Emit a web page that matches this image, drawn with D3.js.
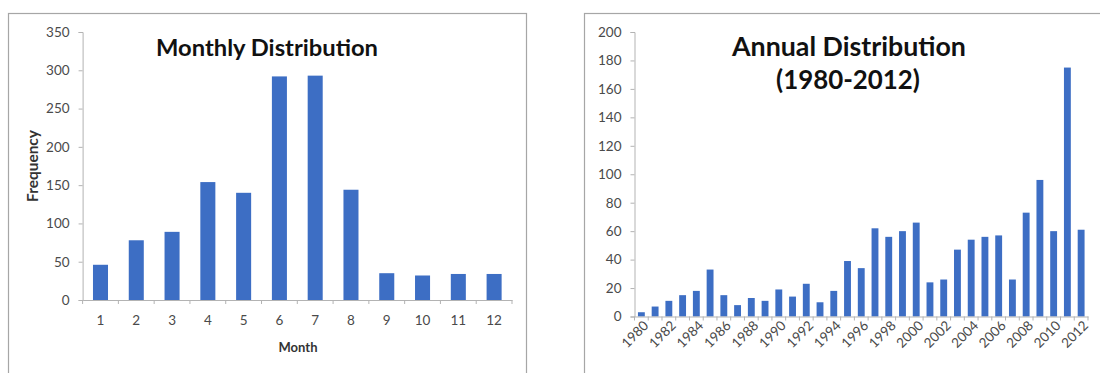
<!DOCTYPE html>
<html>
<head>
<meta charset="utf-8">
<script src="https://cdn.jsdelivr.net/npm/d3@7"></script>
<style>
  html, body { margin: 0; padding: 0; background: #fff; }
  svg { display: block; }
  text { font-family: Lato, "Open Sans", sans-serif; }
</style>
</head>
<body>
<svg id="chart" width="1100" height="373"></svg>
<script>
// Monthly counts
const months = ["1","2","3","4","5","6","7","8","9","10","11","12"];
const monthlyCounts = [46, 78, 89, 154, 140, 292, 293, 144, 35, 32, 34, 34];
const monthlyTicks = [0, 50, 100, 150, 200, 250, 300, 350];

// Annual counts, 1980-2012
const years = ["1980","1981","1982","1983","1984","1985","1986","1987","1988","1989",
  "1990","1991","1992","1993","1994","1995","1996","1997","1998","1999",
  "2000","2001","2002","2003","2004","2005","2006","2007","2008","2009",
  "2010","2011","2012"];
const annualCounts = [3, 7, 11, 15, 18, 33, 15, 8, 13, 11,
  19, 14, 23, 10, 18, 39, 34, 62, 56, 60,
  66, 24, 26, 47, 54, 56, 57, 26, 73, 96,
  60, 175, 61];
const annualTicks = [0, 20, 40, 60, 80, 100, 120, 140, 160, 180, 200];
const annualLabels = years.filter((d, i) => i % 2 === 0);

const svg = d3.select("#chart");
const BAR = "#3d6ec4";
const AXIS = "#b3b3b3";
const LABEL = "#4a4a4a";
const TICK_FONT = 13.5;

// Panel frames
svg.append("rect").attr("x", 8.5).attr("y", 13.5).attr("width", 518).attr("height", 380)
  .attr("fill", "#fff").attr("stroke", "#a6a6a6").attr("stroke-width", 1.2);
svg.append("rect").attr("x", 584.5).attr("y", 13.5).attr("width", 530).attr("height", 380)
  .attr("fill", "#fff").attr("stroke", "#a6a6a6").attr("stroke-width", 1.2);

function fitText(sel, target) {
  const w = sel.node().getComputedTextLength();
  const fs = parseFloat(sel.attr("font-size"));
  sel.attr("font-size", fs * target / w);
}

function styleAxis(g) {
  g.select(".domain").attr("stroke", AXIS).attr("stroke-width", 1);
  g.selectAll(".tick line").attr("stroke", AXIS).attr("stroke-width", 1);
  g.selectAll(".tick text").attr("fill", LABEL).attr("font-size", TICK_FONT)
    .attr("font-family", "Lato, 'Open Sans', sans-serif");
}

// ---- Monthly distribution ----
{
  const x = d3.scaleBand().domain(months).range([82.6, 512]).paddingInner(0.58).paddingOuter(0.29);
  const y = d3.scaleLinear().domain([0, 350]).range([300, 32]);
  const g = svg.append("g");

  g.selectAll("rect.bar").data(monthlyCounts).join("rect")
    .attr("class", "bar")
    .attr("x", (d, i) => x(months[i]))
    .attr("width", x.bandwidth())
    .attr("y", d => y(d))
    .attr("height", d => y(0) - y(d))
    .attr("fill", BAR);

  const ya = g.append("g").attr("transform", "translate(82.6,0)")
    .call(d3.axisLeft(y).tickValues(monthlyTicks).tickSize(4).tickPadding(9));
  styleAxis(ya);

  // x axis with tick marks at category boundaries
  const xa = g.append("g").attr("transform", "translate(0,300)")
    .call(d3.axisBottom(x).tickSize(0).tickPadding(15));
  styleAxis(xa);
  const step = x.step();
  const bounds = d3.range(months.length + 1).map(i => 82.6 + i * step);
  xa.selectAll("line.bound").data(bounds).join("line").attr("class", "bound")
    .attr("x1", d => d).attr("x2", d => d).attr("y1", 0).attr("y2", 4)
    .attr("stroke", AXIS);

  const t = g.append("text").attr("x", 267).attr("y", 56).attr("text-anchor", "middle")
    .attr("font-size", 24).attr("font-weight", "bold").attr("fill", "#111")
    .text("Monthly Distribution");
  fitText(t, 222);

  const xl = g.append("text").attr("x", 298).attr("y", 352).attr("text-anchor", "middle")
    .attr("font-size", 12).attr("font-weight", "bold").attr("fill", "#333").text("Month");
  fitText(xl, 39);

  const yl = g.append("text").attr("transform", "translate(38,166) rotate(-90)")
    .attr("text-anchor", "middle").attr("font-size", 12).attr("font-weight", "bold")
    .attr("fill", "#333").text("Frequency");
  fitText(yl, 72);
}

// ---- Annual distribution ----
{
  const x = d3.scaleBand().domain(years).range([634.5, 1088]).paddingInner(0.5).paddingOuter(0.25);
  const y = d3.scaleLinear().domain([0, 200]).range([316.5, 32]);
  const g = svg.append("g");

  g.selectAll("rect.bar").data(annualCounts).join("rect")
    .attr("class", "bar")
    .attr("x", (d, i) => x(years[i]))
    .attr("width", x.bandwidth())
    .attr("y", d => y(d))
    .attr("height", d => y(0) - y(d))
    .attr("fill", BAR);

  const ya = g.append("g").attr("transform", "translate(634.5,0)")
    .call(d3.axisLeft(y).tickValues(annualTicks).tickSize(4).tickPadding(9));
  styleAxis(ya);

  const xa = g.append("g").attr("transform", "translate(0,316.5)")
    .call(d3.axisBottom(x).tickValues(annualLabels).tickSize(0).tickPadding(8));
  styleAxis(xa);
  xa.selectAll(".tick text")
    .attr("text-anchor", "end")
    .attr("dy", 0)
    .attr("y", 0)
    .attr("transform", "translate(8,10) rotate(-45)");
  const step = x.step();
  const bounds = d3.range(years.length + 1).map(i => 634.5 + i * step);
  xa.selectAll("line.bound").data(bounds).join("line").attr("class", "bound")
    .attr("x1", d => d).attr("x2", d => d).attr("y1", 0).attr("y2", 4)
    .attr("stroke", AXIS);

  const t1 = g.append("text").attr("x", 849).attr("y", 56).attr("text-anchor", "middle")
    .attr("font-size", 24).attr("font-weight", "bold").attr("fill", "#111")
    .text("Annual Distribution");
  fitText(t1, 234);
  const t2 = g.append("text").attr("x", 848).attr("y", 89).attr("text-anchor", "middle")
    .attr("font-size", 24).attr("font-weight", "bold").attr("fill", "#111")
    .text("(1980-2012)");
  fitText(t2, 144);
}
</script>
</body>
</html>
